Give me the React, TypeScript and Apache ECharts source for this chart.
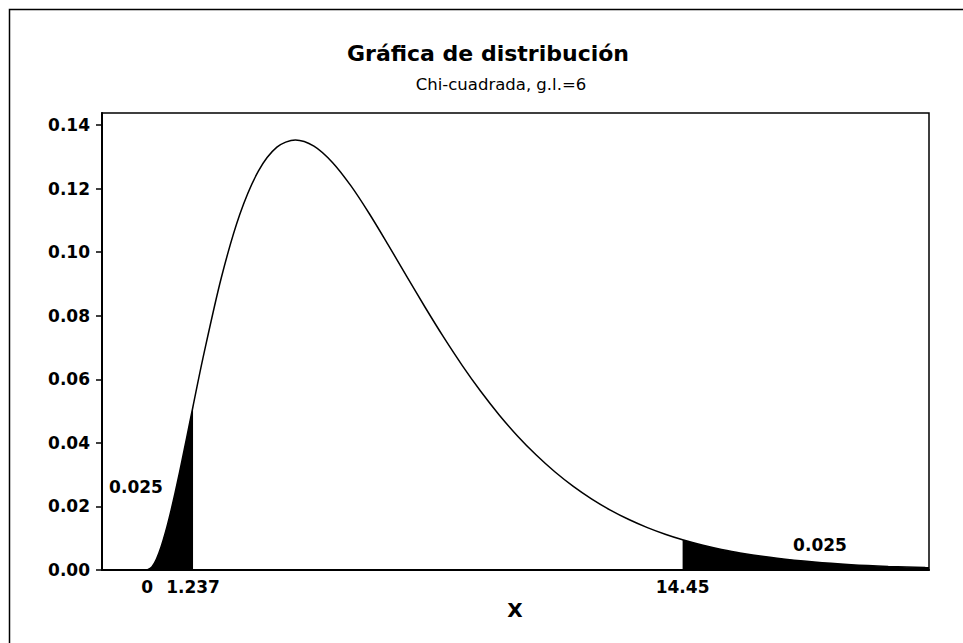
import React, { useEffect, useRef } from "react";
import * as echarts from "echarts";

// Chi-square (df = 6) density
const curveX = [0, 0.125, 0.25, 0.375, 0.5, 0.625, 0.75, 0.875, 1.0, 1.125, 1.237, 1.5, 2, 2.5, 3, 3.5, 4, 4.5, 5, 5.5, 6, 6.5, 7, 7.5, 8, 8.5, 9, 9.5, 10, 10.5, 11, 11.5, 12, 12.5, 13, 13.5, 14, 14.45, 15, 15.5, 16, 17, 18, 19, 20, 21, 21.1];
const curveY = [0, 0.00092, 0.00345, 0.00729, 0.01217, 0.01786, 0.02416, 0.0309, 0.03791, 0.04507, 0.05152, 0.06643, 0.09197, 0.11192, 0.12551, 0.13305, 0.13534, 0.1334, 0.12826, 0.12086, 0.11202, 0.10239, 0.09248, 0.08268, 0.07326, 0.06441, 0.05624, 0.0488, 0.04211, 0.03616, 0.03091, 0.02631, 0.02231, 0.01885, 0.01588, 0.01334, 0.01117, 0.0095, 0.00778, 0.00647, 0.00537, 0.00368, 0.0025, 0.00169, 0.00114, 0.00076, 0.00073];

const leftTailX = [0, 0.125, 0.25, 0.375, 0.5, 0.625, 0.75, 0.875, 1.0, 1.125, 1.237];
const leftTailY = [0, 0.00092, 0.00345, 0.00729, 0.01217, 0.01786, 0.02416, 0.0309, 0.03791, 0.04507, 0.05152];
const rightTailX = [14.45, 15, 15.5, 16, 17, 18, 19, 20, 21, 21.1];
const rightTailY = [0.0095, 0.00778, 0.00647, 0.00537, 0.00368, 0.0025, 0.00169, 0.00114, 0.00076, 0.00073];

const xTickValues = [0, 1.237, 14.45];
const xTickLabels = ["0", "1.237", "14.45"];
const yTickValues = [0, 0.02, 0.04, 0.06, 0.08, 0.1, 0.12, 0.14];
const tailAreas = ["0.025", "0.025"];

const titleText = "Gráfica de distribución";
const subtitleText = "Chi-cuadrada, g.l.=6";
const xName = "X";

const FONT = "DejaVu Sans";

export default function App() {
  const ref = useRef<HTMLDivElement>(null);
  useEffect(() => {
    if (!ref.current) return;
    const chart = echarts.init(ref.current, null, { renderer: "svg" });
    const zip = (xs: number[], ys: number[]) => xs.map((x, i) => [x, ys[i]]);
    chart.setOption({
      animation: false,
      backgroundColor: "#ffffff",
      grid: {
        left: 102,
        top: 113,
        right: 34,
        bottom: 73,
        show: true,
        borderColor: "#000",
        borderWidth: 1.5,
        backgroundColor: "transparent",
      },
      xAxis: {
        type: "value",
        min: -1.22,
        max: 21.1,
        splitLine: { show: false },
        axisLine: { show: true, onZero: false, lineStyle: { color: "#000", width: 2 } },
        axisTick: { show: false },
        axisLabel: {
          customValues: xTickValues,
          formatter: (v: number) => {
            const i = xTickValues.findIndex((t) => Math.abs(t - v) < 1e-6);
            return i >= 0 ? xTickLabels[i] : "";
          },
          margin: 8,
          color: "#000",
          fontFamily: FONT,
          fontWeight: "bold",
          fontSize: 17,
        },
      },
      yAxis: {
        type: "value",
        min: 0,
        max: 0.1438,
        splitLine: { show: false },
        axisLine: { show: true, onZero: false, lineStyle: { color: "#000", width: 2 } },
        axisTick: { show: true, customValues: yTickValues, length: 6, lineStyle: { color: "#000", width: 1.5 } },
        axisLabel: {
          customValues: yTickValues,
          formatter: (v: number) => v.toFixed(2),
          margin: 12,
          color: "#000",
          fontFamily: FONT,
          fontWeight: "bold",
          fontSize: 17,
        },
      },
      graphic: [
        {
          type: "rect",
          shape: { x: 9.5, y: 9.5, width: 1100, height: 800 },
          style: { fill: "none", stroke: "#000", lineWidth: 1.5 },
          silent: true,
        },
        {
          type: "text",
          x: 488,
          y: 53,
          style: { text: titleText, fill: "#000", font: `bold 22px "${FONT}"`, textAlign: "center", textVerticalAlign: "middle" },
        },
        {
          type: "text",
          x: 501,
          y: 84,
          style: { text: subtitleText, fill: "#000", font: `16.5px "${FONT}"`, textAlign: "center", textVerticalAlign: "middle" },
        },
        {
          type: "text",
          x: 515,
          y: 610,
          style: { text: xName, fill: "#000", font: `bold 20px "${FONT}"`, textAlign: "center", textVerticalAlign: "middle" },
        },
        {
          type: "text",
          x: 136,
          y: 487,
          style: { text: tailAreas[0], fill: "#000", font: `bold 17px "${FONT}"`, textAlign: "center", textVerticalAlign: "middle" },
        },
        {
          type: "text",
          x: 820,
          y: 545,
          style: { text: tailAreas[1], fill: "#000", font: `bold 17px "${FONT}"`, textAlign: "center", textVerticalAlign: "middle" },
        },
      ],
      series: [
        {
          type: "line",
          data: zip(leftTailX, leftTailY),
          smooth: 0.3,
          showSymbol: false,
          lineStyle: { width: 0 },
          areaStyle: { color: "#000", opacity: 1 },
          silent: true,
          z: 2,
        },
        {
          type: "line",
          data: zip(rightTailX, rightTailY),
          smooth: 0.3,
          showSymbol: false,
          lineStyle: { width: 0 },
          areaStyle: { color: "#000", opacity: 1 },
          silent: true,
          z: 2,
        },
        {
          type: "line",
          data: zip(curveX, curveY),
          smooth: 0.3,
          showSymbol: false,
          lineStyle: { color: "#000", width: 1.5 },
          silent: true,
          z: 3,
        },
      ],
    });
    return () => chart.dispose();
  }, []);
  return <div ref={ref} style={{ position: "fixed", left: 0, top: 0, width: 963, height: 643 }} />;
}
